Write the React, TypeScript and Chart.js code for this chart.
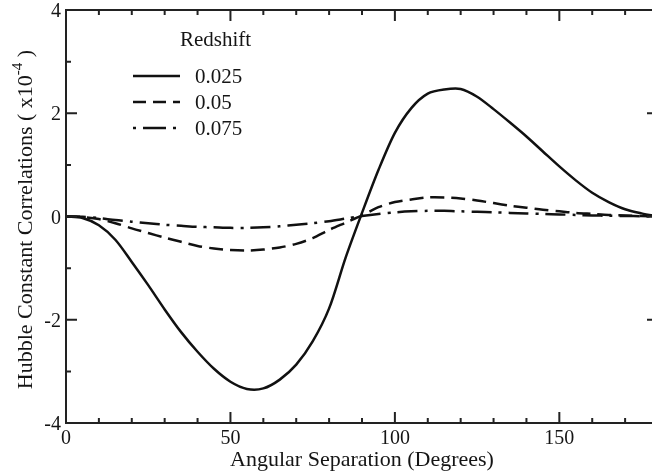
import React, { useEffect, useRef } from "react";
import { Chart, registerables } from "chart.js";

Chart.register(...registerables);

// ---- data ----
const angles = [0, 5, 10, 15, 20, 25, 30, 35, 40, 45, 50, 55, 60, 65, 70, 75, 80, 85, 90, 95, 100, 105, 110, 115, 120, 125, 130, 135, 140, 145, 150, 155, 160, 165, 170, 175, 180];
const corrZ025 = [0, -0.03, -0.17, -0.45, -0.88, -1.33, -1.8, -2.24, -2.62, -2.95, -3.2, -3.34, -3.33, -3.16, -2.87, -2.42, -1.78, -0.8, 0.07, 0.9, 1.62, 2.1, 2.38, 2.46, 2.47, 2.32, 2.08, 1.82, 1.55, 1.26, 0.97, 0.7, 0.46, 0.28, 0.14, 0.06, 0.0];
const corrZ050 = [0, -0.01, -0.05, -0.13, -0.23, -0.32, -0.41, -0.49, -0.57, -0.62, -0.65, -0.66, -0.64, -0.6, -0.53, -0.42, -0.26, -0.12, 0.02, 0.18, 0.28, 0.33, 0.37, 0.37, 0.35, 0.31, 0.26, 0.21, 0.17, 0.13, 0.1, 0.07, 0.05, 0.03, 0.02, 0.01, 0];
const corrZ075 = [0, -0.005, -0.03, -0.07, -0.1, -0.13, -0.16, -0.18, -0.2, -0.21, -0.22, -0.22, -0.21, -0.19, -0.16, -0.13, -0.09, -0.04, 0.01, 0.05, 0.08, 0.1, 0.11, 0.11, 0.1, 0.09, 0.08, 0.07, 0.06, 0.05, 0.04, 0.03, 0.02, 0.015, 0.01, 0.005, 0];
const redshiftLabels = ["0.025", "0.05", "0.075"];
const xTickValues = [0, 50, 100, 150];
const yTickValues = [-4, -2, 0, 2, 4];
const xTitle = "Angular Separation (Degrees)";
const yTitleMain = "Hubble Constant Correlations ( x10";
const yTitleSup = "-4";
const yTitleEnd = " )";
const legendTitle = "Redshift";

const SERIF = "'Liberation Serif', 'Times New Roman', serif";
const INK = "#151515";

const framePlugin = {
  id: "frameAndText",
  afterDatasetsDraw(chart: any) {
    const ctx: CanvasRenderingContext2D = chart.ctx;
    const xs = chart.scales.x;
    const ys = chart.scales.y;
    const { left, right, top, bottom } = chart.chartArea;
    ctx.save();
    ctx.strokeStyle = "#222";
    ctx.lineWidth = 2;
    ctx.lineCap = "butt";
    ctx.beginPath();
    ctx.rect(left, top, right - left, bottom - top);
    ctx.stroke();

    // x ticks (inward, top and bottom)
    for (let v = xs.min; v <= xs.max; v += 10) {
      const px = xs.getPixelForValue(v);
      const len = v % 50 === 0 ? 11 : 5;
      ctx.beginPath();
      ctx.moveTo(px, bottom);
      ctx.lineTo(px, bottom - len);
      ctx.moveTo(px, top);
      ctx.lineTo(px, top + len);
      ctx.stroke();
    }
    // y ticks (inward, left and right)
    for (let v = ys.min; v <= ys.max; v += 1) {
      const py = ys.getPixelForValue(v);
      const len = v % 2 === 0 ? 11 : 5;
      ctx.beginPath();
      ctx.moveTo(left, py);
      ctx.lineTo(left + len, py);
      ctx.moveTo(right, py);
      ctx.lineTo(right - len, py);
      ctx.stroke();
    }

    ctx.fillStyle = INK;
    ctx.font = `20px ${SERIF}`;
    ctx.textBaseline = "alphabetic";
    ctx.textAlign = "center";
    xTickValues.forEach((v) => {
      ctx.fillText(String(v), xs.getPixelForValue(v), bottom + 21);
    });
    ctx.textAlign = "right";
    yTickValues.forEach((v) => {
      ctx.fillText(String(v), left - 5, ys.getPixelForValue(v) + 7);
    });

    // x title
    ctx.font = `22px ${SERIF}`;
    ctx.textAlign = "center";
    ctx.fillText(xTitle, (left + right) / 2, 466);

    // y title with superscript
    ctx.save();
    const cy = (top + bottom) / 2 + 3;
    ctx.translate(32, cy);
    ctx.rotate(-Math.PI / 2);
    ctx.textAlign = "left";
    ctx.font = `22px ${SERIF}`;
    const w1 = ctx.measureText(yTitleMain).width;
    const w3 = ctx.measureText(yTitleEnd).width;
    ctx.font = `15px ${SERIF}`;
    const w2 = ctx.measureText(yTitleSup).width;
    const total = w1 + w2 + w3;
    let x0 = -total / 2;
    ctx.font = `22px ${SERIF}`;
    ctx.fillText(yTitleMain, x0, 0);
    x0 += w1;
    ctx.font = `15px ${SERIF}`;
    ctx.fillText(yTitleSup, x0, -10);
    x0 += w2;
    ctx.font = `22px ${SERIF}`;
    ctx.fillText(yTitleEnd, x0, 0);
    ctx.restore();

    // legend
    ctx.font = `21px ${SERIF}`;
    ctx.textAlign = "left";
    ctx.fillText(legendTitle, 180, 46);
    chart.data.datasets.forEach((ds: any, i: number) => {
      const ly = 76 + i * 26;
      ctx.save();
      ctx.strokeStyle = ds.borderColor;
      ctx.lineWidth = ds.borderWidth;
      ctx.setLineDash(ds.legendDash || ds.borderDash || []);
      ctx.beginPath();
      ctx.moveTo(133, ly);
      ctx.lineTo(180, ly);
      ctx.stroke();
      ctx.restore();
      ctx.fillText(ds.label, 195, ly + 7);
    });
    ctx.restore();
  },
};

export default function App() {
  const ref = useRef<HTMLCanvasElement | null>(null);
  useEffect(() => {
    if (!ref.current) return;
    const mk = (vals: number[]) => angles.map((a, i) => ({ x: a, y: vals[i] }));
    const common = { borderColor: "#111", borderWidth: 2.5, pointRadius: 0, fill: false, tension: 0.3 };
    const chart = new Chart(ref.current, {
      type: "line",
      data: {
        datasets: [
          { ...common, label: redshiftLabels[0], data: mk(corrZ025), borderDash: [] } as any,
          { ...common, label: redshiftLabels[1], data: mk(corrZ050), borderDash: [14, 7], legendDash: [13, 7] } as any,
          { ...common, label: redshiftLabels[2], data: mk(corrZ075), borderDash: [20, 7, 3, 7], legendDash: [3, 7, 23, 7] } as any,
        ],
      },
      options: {
        animation: false,
        responsive: false,
        maintainAspectRatio: false,
        layout: { padding: { left: 66, right: 2, top: 10, bottom: 51 } },
        plugins: { legend: { display: false }, tooltip: { enabled: false } },
        scales: {
          x: { type: "linear", min: 0, max: 180, display: false },
          y: { type: "linear", min: -4, max: 4, display: false },
        },
      },
      plugins: [framePlugin],
    });
    return () => chart.destroy();
  }, []);
  return (
    <div style={{ position: "fixed", left: 0, top: 0, width: 660, height: 474, background: "#fff" }}>
      <canvas ref={ref} width={660} height={474} style={{ display: "block" }} />
    </div>
  );
}
